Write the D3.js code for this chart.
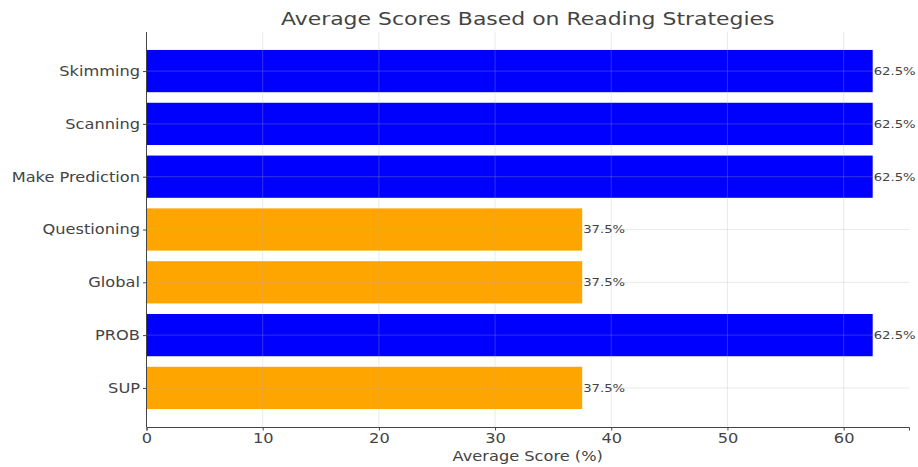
<!DOCTYPE html>
<html>
<head>
<meta charset="utf-8">
<script src="https://cdn.jsdelivr.net/npm/d3@7"></script>
<style>
  body { margin: 0; background: #fff; }
  text { font-family: "DejaVu Sans", sans-serif; fill: #444; }
</style>
</head>
<body>
<div class="graph-section"></div>
<script>
var strategies = ["Skimming", "Scanning", "Make Prediction", "Questioning", "Global", "PROB", "SUP"];
var scores = [62.5, 62.5, 62.5, 37.5, 37.5, 62.5, 37.5];
var barColors = ["#0000ff", "#0000ff", "#0000ff", "#ffa500", "#ffa500", "#0000ff", "#ffa500"];
var xTicks = [0, 10, 20, 30, 40, 50, 60];

var screen = { width: 918, height: 467 };
var margins = { top: 32, bottom: 40, left: 146.5, right: 9 };
// the reference text looks a bit wider than normal
var stretch = 1.2;

var data = strategies.map(function(s, i) {
  return { name: s, score: scores[i], color: barColors[i], idx: i };
});

var graphWidth = screen.width - margins.left - margins.right;
var graphHeight = screen.height - margins.top - margins.bottom;

var xScale = d3.scaleLinear()
  .domain([0, d3.max(scores) * 1.05])
  .range([0, graphWidth]);

// matplotlib style category axis: bars at 0..n-1, 5% margins
var n = strategies.length;
var yScale = d3.scaleLinear()
  .domain([-0.4 - 0.34, n - 0.6 + 0.34])
  .range([0, graphHeight]);
var barH = yScale(0.8) - yScale(0);

var svg = d3.select(".graph-section")
  .append("svg")
  .attr("width", screen.width)
  .attr("height", screen.height);

var plot = svg.append("g")
  .attr("transform", "translate(" + margins.left + "," + margins.top + ")");

plot.selectAll("rect.bar")
  .data(data)
  .enter()
  .append("rect")
  .classed("bar", true)
  .attr("x", 0)
  .attr("y", function(d) { return yScale(d.idx - 0.4); })
  .attr("width", function(d) { return xScale(d.score); })
  .attr("height", barH)
  .attr("fill", function(d) { return d.color; });

// grid on top of bars
var grid = plot.append("g").attr("stroke", "#b0b0b0").attr("stroke-opacity", 0.35).attr("stroke-width", 0.8);
grid.selectAll("line.vx")
  .data(xTicks)
  .enter()
  .append("line")
  .attr("x1", function(d) { return xScale(d); })
  .attr("x2", function(d) { return xScale(d); })
  .attr("y1", 0)
  .attr("y2", graphHeight);
grid.selectAll("line.hy")
  .data(data)
  .enter()
  .append("line")
  .attr("x1", 0)
  .attr("x2", graphWidth)
  .attr("y1", function(d) { return yScale(d.idx); })
  .attr("y2", function(d) { return yScale(d.idx); });

// value labels
plot.selectAll("text.val")
  .data(data)
  .enter()
  .append("text")
  .attr("x", function(d) { return xScale(d.score) + 1; })
  .attr("y", function(d) { return yScale(d.idx); })
  .attr("dy", "0.35em")
  .style("font-size", "11px")
  .text(function(d) { return d.score + "%"; });

var xAxis = d3.axisBottom(xScale).tickValues(xTicks).tickSize(3.5).tickPadding(3);
var gx = plot.append("g")
  .attr("transform", "translate(0," + graphHeight + ")")
  .call(xAxis);
gx.select(".domain").attr("stroke", "#444");
gx.selectAll(".tick line").attr("stroke", "#444");
gx.selectAll(".tick text").style("font-size", "13.5px").attr("fill", "#444");

var yAxis = d3.axisLeft(yScale)
  .tickValues(d3.range(n))
  .tickFormat(function(i) { return strategies[i]; })
  .tickSize(3.5).tickPadding(3);
var gy = plot.append("g").call(yAxis);
gy.select(".domain").attr("stroke", "#444").attr("d", "M0," + graphHeight + "V0");
gy.selectAll(".tick line").attr("stroke", "#444");
gy.selectAll(".tick text").style("font-size", "13.5px").attr("fill", "#444");

svg.append("text")
  .attr("x", margins.left + graphWidth / 2)
  .attr("y", 25)
  .attr("text-anchor", "middle")
  .style("font-size", "18.3px")
  .text("Average Scores Based on Reading Strategies");

svg.append("text")
  .attr("x", margins.left + graphWidth / 2)
  .attr("y", 461)
  .attr("text-anchor", "middle")
  .style("font-size", "13.5px")
  .text("Average Score (%)");

// widen all text a little
svg.selectAll("text").each(function() {
  var w = this.getComputedTextLength();
  d3.select(this)
    .attr("textLength", w * stretch)
    .attr("lengthAdjust", "spacingAndGlyphs");
});
</script>
</body>
</html>
